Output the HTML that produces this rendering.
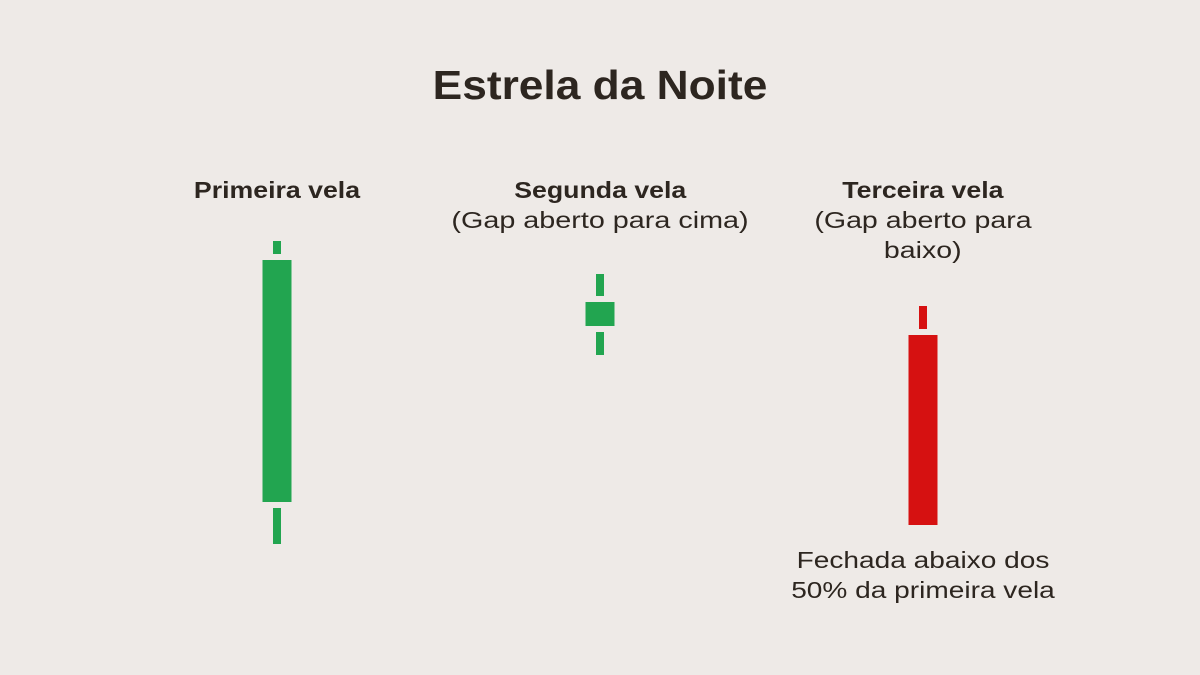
<!DOCTYPE html>
<html><head><meta charset="utf-8"><style>
html,body{margin:0;padding:0;background:#eeeae7;}
#wrap{position:relative;width:1200px;height:675px;background:#eeeae7;font-family:"Liberation Sans",sans-serif;color:#2d2620;overflow:hidden}
.t{position:absolute;text-align:center;white-space:nowrap;transform:translateX(-50%)}
.w{display:inline-block;}
</style></head><body>
<div id="wrap">
<div class="t" style="left:600px;top:62px;font-size:41px;font-weight:bold;transform:translateX(-50%) scaleX(1.08)">Estrela da Noite</div>
<div class="t" style="left:277px;top:175px;font-size:23px;font-weight:bold;line-height:30px;transform:translateX(-50%) scaleX(1.16)">Primeira vela</div>
<div class="t" style="left:600px;top:175px;font-size:23px;line-height:30px"><b class="w" style="transform:scaleX(1.16)">Segunda vela</b><br><span class="w" style="transform:scaleX(1.25)">(Gap aberto para cima)</span></div>
<div class="t" style="left:923px;top:175px;font-size:23px;line-height:30px"><b class="w" style="transform:scaleX(1.16)">Terceira vela</b><br><span class="w" style="transform:scaleX(1.24)">(Gap aberto para</span><br><span class="w" style="transform:scaleX(1.24)">baixo)</span></div>
<div class="t" style="left:923px;top:545px;font-size:23px;line-height:30px;transform:translateX(-50%) scaleX(1.22)">Fechada abaixo dos<br>50% da primeira vela</div>
<svg id="svg" width="1200" height="675" style="position:absolute;left:0;top:0"></svg>
</div>
<script>
const candleNames=["first","second","third"];
const opens=[49,137,132.5];
const closes=[170,149,37.5];
const highs=[179.5,163,147];
const lows=[28,122.5,37.5];
const centers=[277,600,923];
function y(v){return 600-2*v;}
const svg=document.getElementById('svg');
const NS='http://www.w3.org/2000/svg';
function rect(x,y0,w,h,c,name){
 if(h<=0)return;
 const r=document.createElementNS(NS,'rect');
 r.setAttribute('x',x);r.setAttribute('y',y0);r.setAttribute('width',w);r.setAttribute('height',h);r.setAttribute('fill',c);
 
 
 svg.appendChild(r);
}
const gap=6;
for(let i=0;i<opens.length;i++){
 const up=closes[i]>=opens[i];
 const c=up?'#22a550':'#d61111';
 const cx=centers[i];
 const top=Math.max(opens[i],closes[i]),bot=Math.min(opens[i],closes[i]);
 rect(cx-14.5,y(top),29,y(bot)-y(top),c,'candle-body-'+candleNames[i]);
 rect(cx-4,y(highs[i]),8,y(top)-gap-y(highs[i]),c,'upper-wick-'+candleNames[i]);
 rect(cx-4,y(bot)+gap,8,y(lows[i])-y(bot)-gap,c,'lower-wick-'+candleNames[i]);
}
</script>
</body></html>
